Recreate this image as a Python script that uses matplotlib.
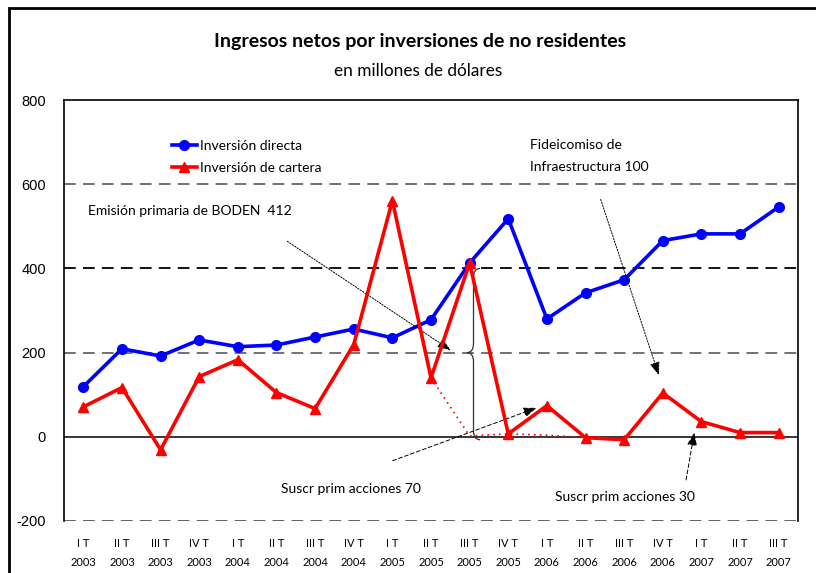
import matplotlib
matplotlib.use("Agg")
import matplotlib.pyplot as plt
import numpy as np
from matplotlib.path import Path
from matplotlib.patches import PathPatch
from matplotlib.lines import Line2D

quarters = ["I T", "II T", "III T", "IV T", "I T", "II T", "III T", "IV T", "I T", "II T",
            "III T", "IV T", "I T", "II T", "III T", "IV T", "I T", "II T", "III T"]
years = ["2003"] * 4 + ["2004"] * 4 + ["2005"] * 4 + ["2006"] * 4 + ["2007"] * 3
directa = [119, 209, 192, 230, 214, 218, 237, 256, 235, 278, 413, 518,
           280, 342, 373, 466, 482, 482, 546]
cartera = [71, 117, -31, 143, 183, 105, 67, 219, 561, 140, 413, 7,
           74, -2, -7, 104, 36, 10, 10]
# underlying path without the special operations (dotted)
cartera_ajust = [np.nan] * 9 + [140, 2, 7, 4, -2] + [np.nan] * 5

fig = plt.figure(figsize=(8.16, 5.73), dpi=100)
ax = fig.add_axes([64 / 816, 1 - 521 / 573, (798 - 64) / 816, (521 - 100) / 573])

# outer frame (top and left edges visible)
fl = 9 / 816
ft = 1 - 8 / 573
fig.lines.append(Line2D([fl, fl, 1.05], [-0.05, ft, ft], transform=fig.transFigure,
                        color="black", lw=2.0, solid_joinstyle="miter"))

x = np.arange(len(quarters))
ax.set_xlim(-0.5, len(quarters) - 0.5)
ax.set_ylim(-200, 800)

for yv, col in [(200, "#666666"), (600, "#666666"), (400, "black"), (-200, "#555555")]:
    ax.axhline(yv, color=col, lw=1.3, ls=(0, (6.5, 4)), zorder=1)
ax.axhline(0, color="black", lw=1.1, zorder=1)

ax.plot(x, cartera_ajust, color="red", lw=1.2, ls=(0, (1, 2.5)), zorder=2)
ax.plot(x, directa, color="#0000FF", lw=2.6, marker="o", ms=7, label="Inversión directa", zorder=3)
ax.plot(x, cartera, color="#FF0000", lw=2.6, marker="^", ms=7.5, label="Inversión de cartera", zorder=4)

for s in ["top", "left", "right"]:
    ax.spines[s].set_linewidth(1.2)
ax.spines["bottom"].set_visible(False)

ax.set_yticks([-200, 0, 200, 400, 600, 800])
ax.set_yticklabels(["-200", "0", "200", "400", "600", "800"], fontsize=10.5, family="Liberation Sans")
ax.tick_params(axis="y", length=0, pad=13)
ax.set_xticks(x)
ax.set_xticklabels([f"{q}\n{y}" for q, y in zip(quarters, years)], fontsize=8, family="Lato",
                   linespacing=1.9)
ax.tick_params(axis="x", length=0, pad=12)

leg = ax.legend(loc="upper left", bbox_to_anchor=(0.13, 0.935), frameon=False,
                handlelength=1.8, handletextpad=0.25, labelspacing=0.75, prop={"family": "Lato", "size": 10})

fig.text(0.515, 1 - 42 / 573, "Ingresos netos por inversiones de no residentes", ha="center", va="center",
         fontsize=14, fontweight="bold", family="Lato")
fig.text(0.513, 1 - 71 / 573, "en millones de dólares", ha="center", va="center", fontsize=12.4, family="Lato")

tf = dict(fontsize=10, family="Lato", va="center", ha="left")
ax.text(0.13, 537, "Emisión primaria de BODEN  412", **tf)
ax.text(11.56, 693, "Fideicomiso de", **tf)
ax.text(11.56, 641, "Infraestructura 100", **tf)
ax.text(5.13, -124, "Suscr prim acciones 70", **tf)
ax.text(12.2, -143, "Suscr prim acciones 30", **tf)

ap_dot = dict(arrowstyle="-|>,head_length=0.8,head_width=0.3", color="black", lw=0.7, ls=(0, (1.5, 1.5)))
ap_dash = dict(arrowstyle="-|>,head_length=0.8,head_width=0.3", color="black", lw=0.7, ls=(0, (4, 2.5)))
ax.annotate("", xy=(9.57, 202), xytext=(5.22, 468), arrowprops=ap_dot)
ax.annotate("", xy=(14.92, 140), xytext=(13.37, 570), arrowprops=ap_dot)
ax.annotate("", xy=(11.8, 71), xytext=(7.94, -59), arrowprops=ap_dash)
ax.annotate("", xy=(15.83, 17), xytext=(15.59, -109), arrowprops=ap_dash)

# curly brace spanning 0..400 at III T 2005
bx = 10.0 + 0.1
w = 0.17
top, bot, mid = 400, -7, 200
r = 22
verts = [(bx + w, top), (bx, top), (bx, top - r),
         (bx, mid + r),
         (bx, mid), (bx - w, mid),
         (bx, mid), (bx, mid - r),
         (bx, bot + r),
         (bx, bot), (bx + w, bot)]
codes = [Path.MOVETO, Path.CURVE3, Path.CURVE3,
         Path.LINETO,
         Path.CURVE3, Path.CURVE3,
         Path.CURVE3, Path.CURVE3,
         Path.LINETO,
         Path.CURVE3, Path.CURVE3]
ax.add_patch(PathPatch(Path(verts, codes), fill=False, edgecolor="#333333", lw=0.9, zorder=2))

fig.savefig("out.png", dpi=100)
